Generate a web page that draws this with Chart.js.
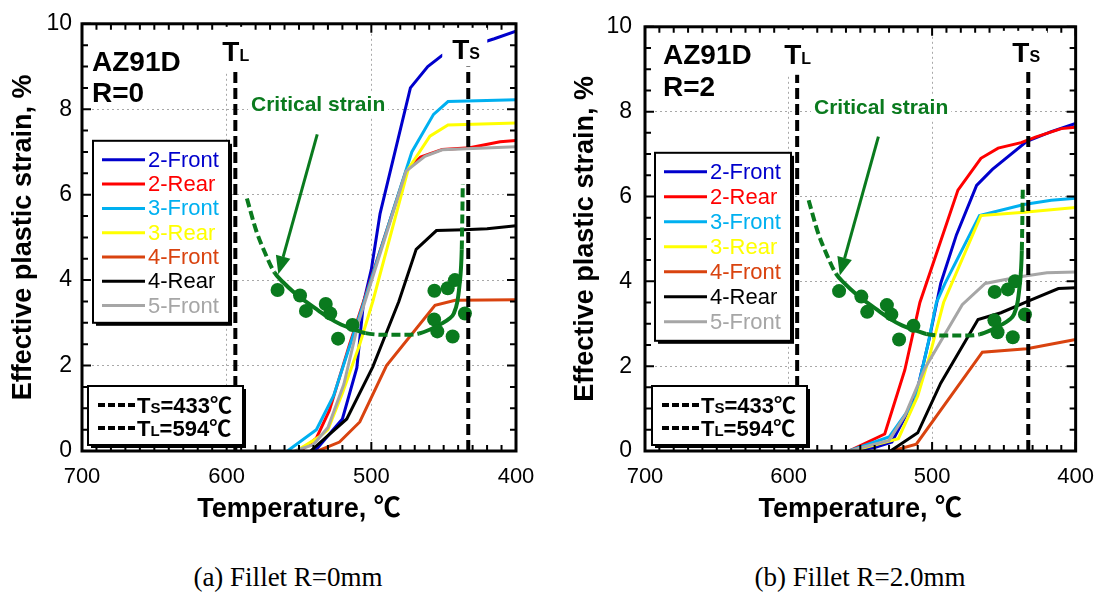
<!DOCTYPE html>
<html>
<head>
<meta charset="utf-8">
<script src="https://cdn.jsdelivr.net/npm/chart.js@4.4.1/dist/chart.umd.min.js"></script>
<style>
  html, body { margin: 0; padding: 0; background: #fff; }
  #wrap { position: relative; width: 1107px; height: 594px; overflow: hidden; background: #fff; }
  #wrap canvas { position: absolute; top: 0; }
  .cap { position: absolute; top: 562px; font-family: "Liberation Serif", "Times New Roman", serif;
         font-size: 27px; color: #000; white-space: nowrap; transform: translateX(-50%); line-height: 31px; }
</style>
</head>
<body>
<div id="wrap">
  <canvas id="panelA" width="553" height="540" style="left:0"></canvas>
  <canvas id="panelB" width="554" height="540" style="left:553px"></canvas>
  <div class="cap" style="left:288px">(a) Fillet R=0mm</div>
  <div class="cap" style="left:860px">(b) Fillet R=2.0mm</div>
</div>
<script>
// Simulated effective plastic strain vs. temperature during solidification, AZ91D

const seriesNames = ['2-Front', '2-Rear', '3-Front', '3-Rear', '4-Front', '4-Rear', '5-Front'];
const seriesColors = ['#0000cc', '#ff0000', '#00b0f0', '#ffff00', '#d9430f', '#000000', '#a6a6a6'];

// Fillet R = 0 mm : [temperature (°C), effective plastic strain (%)]
const r0Front2 = [[539,0],[520,0.75],[510,1.95],[505.5,3.45],[500,4.25],[494,5.55],[473,8.5],[461,9.0],[451,9.26],[415,9.65],[400,9.83]];
const r0Rear2  = [[549,0],[538,0.3],[529,0.95],[515,2.5],[476,6.55],[466,6.88],[451,7.06],[432,7.1],[411,7.24],[400,7.27]];
const r0Front3 = [[558,0],[538,0.5],[526,1.3],[505,3.5],[472,7.0],[457,7.88],[447,8.18],[400,8.22]];
const r0Rear3  = [[552,0],[536,0.33],[530,0.5],[520,1.35],[508,2.5],[499,3.5],[474.5,6.6],[459.5,7.37],[447,7.63],[400,7.68]];
const r0Front4 = [[537,0],[522,0.21],[508,0.68],[489.5,2.0],[456,3.41],[442,3.53],[400,3.54]];
const r0Rear4  = [[542,0],[517,0.75],[499,1.97],[481,3.5],[469,4.72],[455,5.16],[436,5.18],[420,5.2],[400,5.27]];
const r0Front5 = [[553,0],[540,0.15],[530,0.55],[519,1.56],[509,3.0],[476,6.55],[463,6.9],[451,7.05],[400,7.12]];

// Fillet R = 2.0 mm
const r2Front2 = [[556,0],[540,0.08],[528,0.21],[519,0.79],[510,1.49],[502,2.64],[494,3.95],[483,5.1],[469,6.26],[458,6.64],[434,7.3],[417,7.53],[400,7.72]];
const r2Rear2  = [[558,0],[533,0.4],[519,1.91],[508.5,3.5],[500,4.35],[482,6.15],[466,6.9],[454,7.14],[438,7.27],[428,7.4],[410,7.6],[400,7.63]];
const r2Front3 = [[558,0],[530,0.33],[512,1.18],[503,2.5],[497,3.5],[491,3.95],[467,5.55],[436,5.81],[417,5.91],[400,5.96]];
const r2Rear3  = [[556,0],[523.5,0.29],[510,1.3],[501.6,2.26],[492,3.5],[466,5.55],[436,5.63],[400,5.74]];
const r2Front4 = [[528,0],[511,0.16],[465,2.33],[434,2.41],[400,2.63]];
const r2Rear4  = [[529,0],[510,0.43],[494,1.6],[468,3.1],[452,3.26],[431,3.56],[412,3.83],[400,3.85]];
const r2Front5 = [[558,0],[530,0.25],[519,0.83],[505,1.95],[479,3.45],[463,3.95],[440,4.1],[420,4.2],[400,4.22]];

// Critical strain for hot tearing: fitted curve and test results
const criticalCurve = [[586,5.91],[579.5,5.15],[573,4.6],[567,4.18],[561,3.95],[553,3.7],[545,3.49],[537,3.3],
  [529,3.11],[521,2.96],[513,2.86],[504,2.76],[490,2.72],[476,2.72],[467,2.75],[459,2.85],[452,2.97],
  [446,3.1],[443,3.22],[440.5,3.5],[439,3.9],[438,4.3],[437.5,4.72],[437.1,5.5],[436.8,6.25]];
const criticalSolidSpans = [[3, 11], [14, 22]];   // measured range; the rest is extrapolated
const criticalTests = [[564.8,3.77],[549.3,3.64],[545.2,3.28],[531.5,3.44],[528.4,3.22],[513,2.95],[523,2.63],
  [456.4,3.75],[447.2,3.81],[442.2,4.0],[456.6,3.08],[454.4,2.8],[443.8,2.68],[435.3,3.22]];

// Solidus / liquidus temperatures (°C)
const tSolidus = 433;
const tLiquidus = 594;
const markerTop = 9.0;

const xTickValues = [700, 600, 500, 400];
const yTickValues = [0, 2, 4, 6, 8, 10];

const SANS = '"Liberation Sans", Arial, "Noto Sans CJK JP", sans-serif';
const GREEN = '#0a7a1e';

const toPoints = rows => rows.map(([t, s]) => ({ x: t, y: s }));

function subText(ctx, x0, base, main, sub, rest, big, small, color) {
  ctx.fillStyle = color;
  ctx.textAlign = 'left';
  ctx.textBaseline = 'alphabetic';
  ctx.font = `bold ${big}px ${SANS}`;
  ctx.fillText(main, x0, base);
  let xx = x0 + ctx.measureText(main).width;
  ctx.font = `bold ${small}px ${SANS}`;
  ctx.fillText(sub, xx, base);
  xx += ctx.measureText(sub).width;
  if (rest) {
    ctx.font = `bold ${big}px ${SANS}`;
    ctx.fillText(rest, xx, base);
  }
}

function boxWithShadow(ctx, bx, by, bw, bh) {
  ctx.fillStyle = '#000';
  ctx.fillRect(bx + 3, by + 3, bw, bh);
  ctx.fillStyle = '#fff';
  ctx.fillRect(bx, by, bw, bh);
  ctx.strokeStyle = '#000';
  ctx.lineWidth = 2;
  ctx.setLineDash([]);
  ctx.strokeRect(bx, by, bw, bh);
}

// Frame, inward ticks, annotations and legends drawn on top of the data
const panelDecor = {
  id: 'panelDecor',
  afterDatasetsDraw(chart, _args, o) {
    const { ctx, chartArea: a, scales: { x, y } } = chart;
    ctx.save();

    // tick marks on all four sides
    ctx.strokeStyle = '#000';
    ctx.lineWidth = 2;
    ctx.setLineDash([]);
    ctx.beginPath();
    for (let t = 400; t <= 700; t += 10) {
      const px = x.getPixelForValue(t), len = t % 100 === 0 ? 9 : 6;
      ctx.moveTo(px, a.bottom); ctx.lineTo(px, a.bottom - len);
      ctx.moveTo(px, a.top); ctx.lineTo(px, a.top + len);
    }
    for (let k = 0; k <= 20; k++) {
      const v = k / 2, py = y.getPixelForValue(v), len = k % 4 === 0 ? 9 : 6;
      ctx.moveTo(a.left, py); ctx.lineTo(a.left + len, py);
      ctx.moveTo(a.right, py); ctx.lineTo(a.right - len, py);
    }
    ctx.stroke();

    // plot frame
    ctx.lineWidth = 3;
    ctx.strokeRect(a.left, a.top, a.right - a.left, a.bottom - a.top);

    // T_L and T_S labels
    const xl = x.getPixelForValue(tLiquidus);
    const xs = x.getPixelForValue(tSolidus);
    ctx.fillStyle = '#fff';
    ctx.fillRect(xl - 18, a.top + 3, 34, 45);
    ctx.fillRect(xs - 26, a.top + 4, 45, 38);
    subText(ctx, xl - 13, a.top + 37, 'T', 'L', '', 28, 16, '#000');
    subText(ctx, xs - 16, a.top + 35, 'T', 'S', '', 28, 16, '#000');

    // alloy / fillet label
    ctx.fillStyle = '#000';
    ctx.font = `bold 28px ${SANS}`;
    ctx.textAlign = 'left';
    ctx.textBaseline = 'alphabetic';
    ctx.fillText(o.alloy, a.left + o.alloyDx, o.alloyBase);
    ctx.fillText(o.fillet, a.left + o.alloyDx, o.alloyBase + o.alloyGap);

    // "Critical strain" label with arrow
    ctx.font = `bold 21px ${SANS}`;
    const cx = a.left + 169, cb = a.top + 87;
    const cw = ctx.measureText('Critical strain').width;
    ctx.fillStyle = '#fff';
    ctx.fillRect(cx - 3, cb - 19, cw + 6, 24);
    ctx.fillStyle = GREEN;
    ctx.fillText('Critical strain', cx, cb);

    const ax1 = x.getPixelForValue(537.4), ay1 = y.getPixelForValue(7.41);
    const ax2 = x.getPixelForValue(564.3), ay2 = y.getPixelForValue(4.14);
    const ang = Math.atan2(ay2 - ay1, ax2 - ax1), head = 18, half = 7.5;
    const bxp = ax2 - head * Math.cos(ang), byp = ay2 - head * Math.sin(ang);
    ctx.strokeStyle = GREEN;
    ctx.lineWidth = 3;
    ctx.beginPath(); ctx.moveTo(ax1, ay1); ctx.lineTo(bxp, byp); ctx.stroke();
    ctx.fillStyle = GREEN;
    ctx.beginPath();
    ctx.moveTo(ax2, ay2);
    ctx.lineTo(bxp + half * Math.sin(ang), byp - half * Math.cos(ang));
    ctx.lineTo(bxp - half * Math.sin(ang), byp + half * Math.cos(ang));
    ctx.closePath(); ctx.fill();

    // series legend
    const lx = a.left + o.legendDx, ly = a.top + o.legendDy;
    boxWithShadow(ctx, lx, ly, 136, o.legendH);
    ctx.font = `22px ${SANS}`;
    ctx.textBaseline = 'middle';
    seriesNames.forEach((name, i) => {
      const ry = ly + 19 + i * o.legendRow;
      ctx.strokeStyle = seriesColors[i];
      ctx.lineWidth = 3;
      ctx.beginPath(); ctx.moveTo(lx + 9, ry); ctx.lineTo(lx + 52, ry); ctx.stroke();
      ctx.fillStyle = seriesColors[i];
      ctx.fillText(name, lx + 55, ry + 1);
    });

    // solidus / liquidus legend
    const tx = a.left + o.tLegendDx, ty = 386;
    boxWithShadow(ctx, tx, ty, 155, 59);
    [['S', tSolidus], ['L', tLiquidus]].forEach(([sub, val], i) => {
      const ry = ty + 19 + i * 23;
      ctx.strokeStyle = '#000';
      ctx.lineWidth = 4;
      ctx.setLineDash([7, 3]);
      ctx.beginPath(); ctx.moveTo(tx + 10, ry); ctx.lineTo(tx + 47, ry); ctx.stroke();
      ctx.setLineDash([]);
      subText(ctx, tx + 49, ry + 8, 'T', sub, '=' + val + '℃', 22, 15, '#000');
    });

    ctx.restore();
  }
};

function gridColor(c, hidden) {
  return (c.tick && hidden.includes(c.tick.value)) ? 'rgba(0,0,0,0)' : '#a8a8a8';
}

function makePanel(canvasId, series, p) {
  const datasets = seriesNames.map((name, i) => ({
    label: name,
    data: toPoints(series[i]),
    showLine: true,
    borderColor: seriesColors[i],
    backgroundColor: seriesColors[i],
    borderWidth: 3,
    pointRadius: 0,
    tension: 0,
    order: 100 - i
  }));

  datasets.push({
    label: 'Critical strain',
    data: toPoints(criticalCurve),
    showLine: true,
    borderColor: GREEN,
    borderWidth: 4,
    pointRadius: 0,
    cubicInterpolationMode: 'monotone',
    segment: {
      borderDash: c => criticalSolidSpans.some(([s, e]) => c.p0DataIndex >= s && c.p1DataIndex <= e) ? undefined : [9, 4]
    },
    order: 3
  });

  datasets.push({
    label: 'Hot tearing tests',
    data: toPoints(criticalTests),
    showLine: false,
    pointRadius: 7,
    pointBackgroundColor: GREEN,
    pointBorderWidth: 0,
    order: 2
  });

  [tSolidus, tLiquidus].forEach(t => datasets.push({
    label: 'T=' + t,
    data: [{ x: t, y: 0 }, { x: t, y: markerTop }],
    showLine: true,
    borderColor: '#000',
    borderWidth: 4,
    borderDash: [11, 5],
    pointRadius: 0,
    order: 1
  }));

  return new Chart(document.getElementById(canvasId), {
    type: 'scatter',
    data: { datasets },
    plugins: [panelDecor],
    options: {
      responsive: false,
      animation: false,
      devicePixelRatio: 1,
      events: [],
      layout: { padding: { left: 0, top: 18, right: p.padRight, bottom: 0 } },
      plugins: {
        legend: { display: false },
        tooltip: { enabled: false },
        panelDecor: p.decor
      },
      scales: {
        x: {
          type: 'linear', min: 400, max: 700, reverse: true,
          afterBuildTicks: s => { s.ticks = xTickValues.map(v => ({ value: v })); },
          afterFit: s => { s.height = 89; },
          ticks: { autoSkip: false, maxRotation: 0, padding: 13, color: '#000',
                   font: { family: SANS, size: 22 }, callback: v => String(v) },
          grid: { drawTicks: false, lineWidth: 1, color: c => gridColor(c, [400, 700]) },
          border: { display: false, dash: [2, 3] },
          title: { display: true, text: 'Temperature, ℃', color: '#000',
                   font: { family: SANS, size: 27, weight: 'bold' }, padding: { top: 0, bottom: 14 } }
        },
        y: {
          type: 'linear', min: 0, max: 10,
          afterBuildTicks: s => { s.ticks = yTickValues.map(v => ({ value: v })); },
          afterFit: s => { s.width = p.yWidth; },
          ticks: { autoSkip: false, padding: p.yTickPad, color: '#000',
                   font: { family: SANS, size: 23 }, callback: v => String(v) },
          grid: { drawTicks: false, lineWidth: 1, color: c => gridColor(c, [0, 10]) },
          border: { display: false, dash: [2, 3] },
          title: { display: true, text: 'Effective plastic strain, %', color: '#000',
                   font: { family: SANS, size: 27, weight: 'bold' }, padding: { top: p.yTitlePad, bottom: 0 } }
        }
      }
    }
  });
}

makePanel('panelA', [r0Front2, r0Rear2, r0Front3, r0Rear3, r0Front4, r0Rear4, r0Front5], {
  padRight: 37, yWidth: 82, yTickPad: 10, yTitlePad: 7,
  decor: { alloy: 'AZ91D', fillet: 'R=0', alloyDx: 10, alloyBase: 71, alloyGap: 31,
           legendDx: 11, legendDy: 117, legendH: 182, legendRow: 24.3, tLegendDx: 6 }
});

makePanel('panelB', [r2Front2, r2Rear2, r2Front3, r2Rear3, r2Front4, r2Rear4, r2Front5], {
  padRight: 29, yWidth: 92, yTickPad: 13, yTitlePad: 16,
  decor: { alloy: 'AZ91D', fillet: 'R=2', alloyDx: 18, alloyBase: 64, alloyGap: 32,
           legendDx: 10, legendDy: 126, legendH: 188, legendRow: 25, tLegendDx: 7 }
});
</script>
</body>
</html>
